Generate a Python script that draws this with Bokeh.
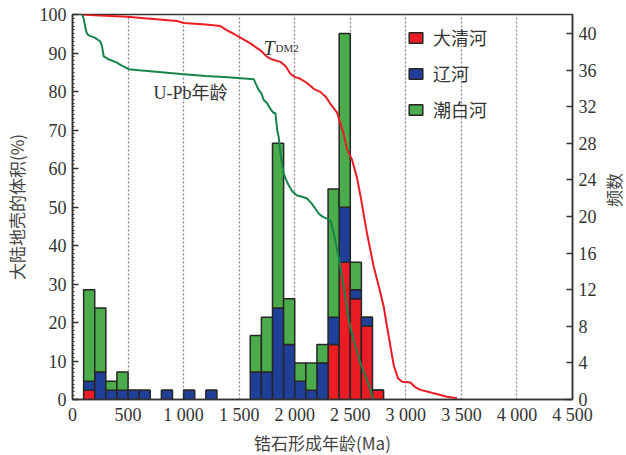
import math
from bokeh.plotting import figure
from bokeh.models import (Range1d, LinearAxis, FixedTicker, SingleIntervalTicker,
                          Legend, LegendItem, Label, ColumnDataSource)
from bokeh.embed import file_html
from bokeh.resources import INLINE

# Zircon age histogram, 100 Ma bins (left edges), counts per river
bin_left = [100, 200, 300, 400, 500, 600, 800, 1000, 1200,
            1600, 1700, 1800, 1900, 2000, 2100, 2200, 2300, 2400, 2500, 2600, 2700]
daqinghe = [1, 0, 0, 0, 0, 0, 0, 0, 0,
            0, 0, 0, 0, 0, 0, 0, 6, 15, 11, 8, 1]
liaohe = [1, 3, 1, 1, 1, 1, 1, 1, 1,
          3, 3, 10, 6, 2, 1, 4, 3, 6, 1, 1, 0]
chaobaihe = [10, 7, 1, 2, 0, 0, 0, 0, 0,
             4, 6, 18, 5, 2, 3, 2, 14, 19, 3, 0, 0]

# Cumulative continental crust volume curves (age in Ma, volume in %)
upb_age = [86, 100, 120, 131, 150, 200, 250, 266, 281, 330, 400, 431, 506, 600, 800,
           1000, 1200, 1400, 1631, 1650, 1676, 1700, 1721, 1750, 1781, 1811, 1826,
           1842, 1856, 1871, 1901, 1931, 1946, 1980, 2021, 2051, 2111, 2150, 2216,
           2250, 2291, 2321, 2351, 2396, 2441, 2486, 2531, 2591, 2651, 2696, 2706]
upb_pct = [100, 99, 96, 95, 94.5, 94, 93, 91.7, 89.1, 88.3, 87.5, 86.9, 85.8, 85.5, 85,
           84.5, 84, 83.7, 83.2, 82, 80.4, 79.5, 77.8, 77, 75.5, 74.4, 74.4,
           70, 68.1, 64, 58.6, 56.5, 55.6, 54, 53, 52.8, 52.2, 51, 48.3,
           47.5, 47, 46.5, 43.1, 37, 29.3, 20.6, 15.4, 9.4, 5, 1.2, 0]
tdm_age = [86, 200, 491, 700, 941, 1001, 1200, 1331, 1391, 1450, 1511, 1600, 1691, 1751,
           1800, 1871, 1920, 1961, 2000, 2051, 2110, 2171, 2231, 2280, 2321, 2381, 2441,
           2471, 2516, 2561, 2591, 2651, 2711, 2760, 2801, 2831, 2891, 2930, 2966, 3041,
           3080, 3131, 3200, 3251, 3371, 3461]
tdm_pct = [100, 99.8, 99.4, 98.9, 98.3, 97.8, 97.4, 97, 95.9, 95, 94, 92.5, 90.7, 89,
           88.3, 87.7, 86.5, 84.6, 83.8, 83.3, 82.2, 80.7, 79.9, 78.6, 76.8, 74.5, 69,
           64.9, 62.3, 57.5, 53, 43.1, 34.5, 29, 24.1, 18.9, 8.9, 5.5, 4.6, 4.4,
           3.3, 2.5, 2, 1.6, 0.7, 0.3]

x_ticks = [0, 500, 1000, 1500, 2000, 2500, 3000, 3500, 4000, 4500]
x_tick_labels = ["0", "500", "1 000", "1 500", "2 000", "2 500", "3 000", "3 500", "4 000", "4 500"]
count_ticks = [0, 4, 8, 12, 16, 20, 24, 28, 32, 36, 40]
series_names = ["大清河", "辽河", "潮白河"]

RED, BLUE, GREEN = "#ec1c24", "#1f3f98", "#4cab4a"
CURVE_GREEN = "#17844a"
INK = "#333333"
SERIF = "'Liberation Serif', 'Times New Roman', serif"
CJK = "'Noto Sans CJK SC', sans-serif"
MIXED = "'Liberation Serif', 'Noto Sans CJK SC', serif"

p = figure(frame_width=500, frame_height=385, x_range=Range1d(0, 4500), y_range=Range1d(0, 100),
           output_backend="svg", toolbar_location=None,
           min_border_left=72, min_border_right=54, min_border_top=14, min_border_bottom=56)
p.extra_y_ranges = {"cnt": Range1d(0, 42.07)}
p.outline_line_color = INK
p.outline_line_width = 1.5
p.background_fill_color = "white"
p.border_fill_color = "white"

# vertical dotted grid at x ticks
p.xgrid.ticker = FixedTicker(ticks=x_ticks)
p.xgrid.grid_line_color = "#8a8a8a"
p.xgrid.grid_line_dash = "2 2"
p.xgrid.grid_line_width = 1.3
p.ygrid.grid_line_color = None

# bottom axis
xa = p.xaxis[0]
xa.ticker = FixedTicker(ticks=x_ticks)
xa.major_label_overrides = {t: s for t, s in zip(x_ticks, x_tick_labels)}
xa.axis_label = "锆石形成年龄(Ma)"

# left axis
ya = p.yaxis[0]
ya.ticker = SingleIntervalTicker(interval=10, num_minor_ticks=10)
ya.axis_label = "大陆地壳的体积(%)"
ya.minor_tick_in = 2
ya.minor_tick_out = 0
ya.minor_tick_line_color = INK

# right axis (counts), title reading bottom-to-top
ra = LinearAxis(y_range_name="cnt", ticker=FixedTicker(ticks=count_ticks))
p.add_layout(ra, "right")
rotated_title = "axis_label_orientation" in ra.properties()
if rotated_title:
    ra.axis_label = "频数"
    ra.axis_label_orientation = math.pi / 2
else:
    p.add_layout(Label(x=544, y=193, x_units="screen", y_units="screen",
                       text="频数", angle=math.pi / 2, text_font=CJK, text_font_size="17px",
                       text_color="#444444", text_align="center", text_baseline="middle"))

for ax in (xa, ya, ra):
    ax.axis_line_color = INK
    ax.axis_line_width = 1.5
    ax.major_tick_in = 6
    ax.major_tick_out = 0
    ax.major_tick_line_color = INK
    ax.major_tick_line_width = 1.3
    ax.major_label_text_font = SERIF
    ax.major_label_text_font_size = "18px"
    ax.major_label_text_color = INK
    ax.major_label_standoff = 6
    ax.axis_label_text_font = CJK
    ax.axis_label_text_font_size = "17px"
    ax.axis_label_text_font_style = "normal"
    ax.axis_label_text_color = "#444444"
    ax.axis_label_standoff = 2
ya.axis_label_standoff = 8
xa.major_label_standoff = 5
xa.major_tick_in = 0
xa.minor_tick_line_color = None
ra.minor_tick_line_color = None
if rotated_title:
    ra.axis_label_text_align = "center"
    ra.axis_label_text_baseline = "middle"
    ra.axis_label_standoff = 14

# stacked histogram
src = ColumnDataSource(dict(
    x=[b + 50 for b in bin_left],
    r=daqinghe, b=liaohe, g=chaobaihe,
))
bars = p.vbar_stack(["r", "b", "g"], x="x", width=100, source=src,
                    fill_color=[RED, BLUE, GREEN], line_color="#262626", line_width=1.5,
                    y_range_name="cnt")

# cumulative curves
p.line(tdm_age, tdm_pct, line_color=RED, line_width=2)
p.line(upb_age, upb_pct, line_color=CURVE_GREEN, line_width=2)

p.add_layout(Label(x=728, y=79.5, text="U-Pb年龄", text_font=MIXED, text_font_size="18px",
                   text_color=INK, text_baseline="middle"))
p.add_layout(Label(x=1718, y=91.3, text="T", text_font=SERIF, text_font_size="20px",
                   text_font_style="italic", text_color=INK, text_baseline="alphabetic"))
p.add_layout(Label(x=1828, y=91.3, text="DM2", text_font=SERIF, text_font_size="11px",
                   text_color=INK, text_baseline="alphabetic"))

legend = Legend(items=[LegendItem(label=n, renderers=[r]) for n, r in zip(series_names, bars)],
                location=(330, 272))
legend.glyph_width = 17
legend.glyph_height = 13
legend.label_text_font = CJK
legend.label_text_font_size = "18px"
legend.label_text_color = INK
legend.label_standoff = 9
legend.label_height = 20
legend.spacing = 10
legend.padding = 5
legend.margin = 0
legend.background_fill_alpha = 0
legend.border_line_alpha = 0
p.add_layout(legend)

open("out.html", "w").write(file_html(p, INLINE))
